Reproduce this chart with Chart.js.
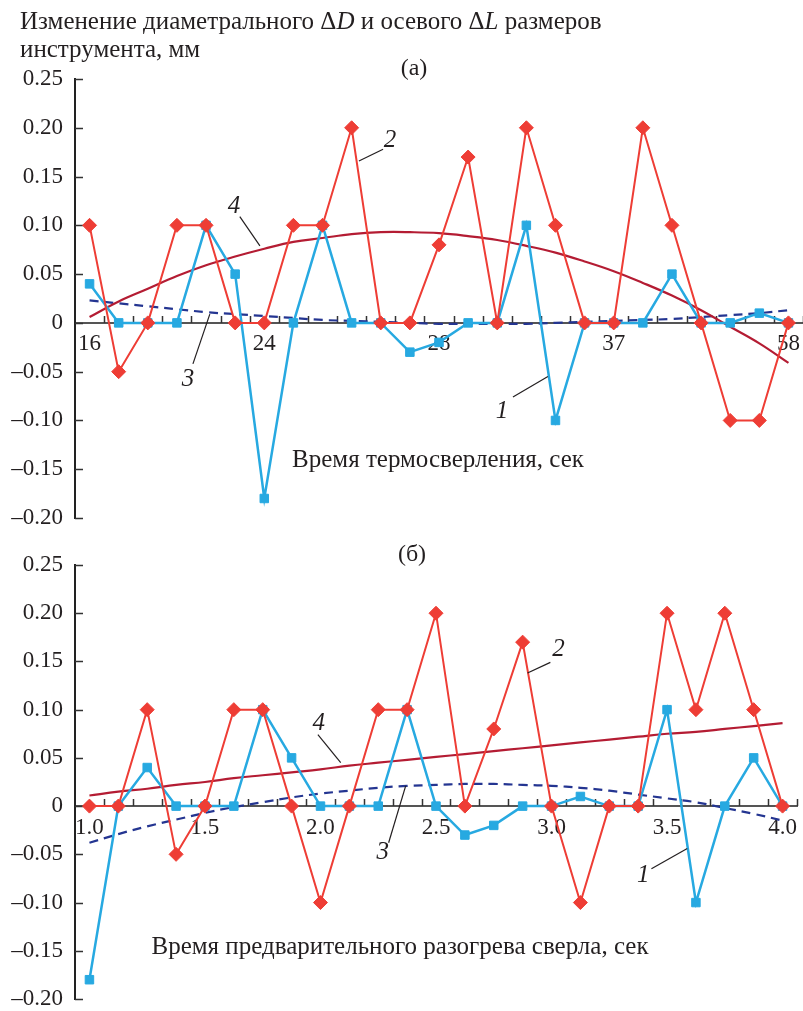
<!DOCTYPE html>
<html>
<head>
<meta charset="utf-8">
<script src="https://cdn.jsdelivr.net/npm/chart.js@4.4.1/dist/chart.umd.min.js"></script>
<style>
  html, body { margin: 0; padding: 0; background: #fff; }
  #wrap { position: relative; width: 803px; height: 1011px; }
  .box { position: absolute; left: 0; width: 803px; }
</style>
</head>
<body>
<div id="wrap">
  <div class="box" style="top:0;height:535px"><canvas id="chartA"></canvas></div>
  <div class="box" style="top:535px;height:476px"><canvas id="chartB"></canvas></div>
</div>
<script>
// (а) время термосверления
const topCategories = ['16', '', '', '', '', '', '24', '', '', '', '', '', '28', '', '', '', '', '', '37', '', '', '', '', '', '58'];
const topSeries1 = [0.04, 0, 0, 0, 0.10, 0.05, -0.18, 0, 0.10, 0, 0, -0.03, -0.02, 0, 0, 0.10, -0.10, 0, 0, 0, 0.05, 0, 0, 0.01, 0];
const topSeries2 = [0.10, -0.05, 0, 0.10, 0.10, 0, 0, 0.10, 0.10, 0.20, 0, 0, 0.08, 0.17, 0, 0.20, 0.10, 0, 0, 0.20, 0.10, 0, -0.10, -0.10, 0];
const topTrend3 = [0.023, 0.020, 0.017, 0.014, 0.011, 0.009, 0.007, 0.005, 0.003, 0.002, 0.001, 0.000, -0.001, -0.001, -0.001, -0.001, 0.000, 0.001, 0.002, 0.003, 0.004, 0.006, 0.008, 0.010, 0.013];
const topTrend4 = [0.006, 0.022, 0.035, 0.048, 0.059, 0.068, 0.076, 0.083, 0.087, 0.091, 0.093, 0.093, 0.092, 0.089, 0.085, 0.079, 0.072, 0.063, 0.053, 0.041, 0.028, 0.013, -0.004, -0.021, -0.041];

// (б) время предварительного разогрева сверла
const bottomCategories = ['1.0', '', '', '', '1.5', '', '', '', '2.0', '', '', '', '2.5', '', '', '', '3.0', '', '', '', '3.5', '', '', '', '4.0'];
const bottomSeries1 = [-0.18, 0, 0.04, 0, 0, 0, 0.10, 0.05, 0, 0, 0, 0.10, 0, -0.03, -0.02, 0, 0, 0.01, 0, 0, 0.10, -0.10, 0, 0.05, 0];
const bottomSeries2 = [0, 0, 0.10, -0.05, 0, 0.10, 0.10, 0, -0.10, 0, 0.10, 0.10, 0.20, 0, 0.08, 0.17, 0, -0.10, 0, 0, 0.20, 0.10, 0.20, 0.10, 0];
const bottomTrend3 = [-0.038, -0.029, -0.021, -0.014, -0.007, -0.001, 0.004, 0.009, 0.013, 0.016, 0.019, 0.021, 0.022, 0.023, 0.023, 0.022, 0.021, 0.019, 0.016, 0.012, 0.008, 0.004, -0.002, -0.008, -0.015];
const bottomTrend4 = [0.011, 0.015, 0.018, 0.022, 0.025, 0.029, 0.032, 0.035, 0.038, 0.042, 0.045, 0.048, 0.051, 0.054, 0.057, 0.060, 0.063, 0.066, 0.069, 0.072, 0.075, 0.077, 0.080, 0.083, 0.086];

const yMin = -0.20, yMax = 0.25, yStep = 0.05;

// curve numbers: label and leader line, in [category index, value]
const topCurveLabels = [
  { text: '2', at: [10.32, 0.187], from: [9.25, 0.166], to: [10.08, 0.178] },
  { text: '4', at: [4.96, 0.119], from: [5.85, 0.079], to: [5.16, 0.109] },
  { text: '3', at: [3.38, -0.058], from: [4.13, 0.009], to: [3.55, -0.042] },
  { text: '1', at: [14.16, -0.091], from: [15.74, -0.055], to: [14.54, -0.076] }
];
const bottomCurveLabels = [
  { text: '4', at: [7.94, 0.086], from: [8.70, 0.045], to: [7.91, 0.074] },
  { text: '2', at: [16.24, 0.162], from: [15.17, 0.138], to: [15.96, 0.149] },
  { text: '3', at: [10.16, -0.048], from: [10.95, 0.021], to: [10.36, -0.038] },
  { text: '1', at: [19.18, -0.072], from: [20.70, -0.044], to: [19.46, -0.065] }
];

const SERIF = '"Liberation Serif", "Times New Roman", serif';
const RED = '#ee3d35';
const BLUE = '#27a9e1';
const DARKRED = '#b41c33';
const NAVY = '#243591';
const INK = '#231f20';

const decor = {
  id: 'decor',
  beforeDatasetsDraw(chart) {
    const { ctx, chartArea: a, scales: { x, y } } = chart;
    ctx.save();
    ctx.strokeStyle = '#333';
    ctx.lineWidth = 1.5;
    ctx.beginPath();
    y.ticks.forEach(t => {
      const py = Math.round(y.getPixelForValue(t.value)) + 0.5;
      ctx.moveTo(a.left, py);
      ctx.lineTo(a.left + 8, py);
    });
    const y0 = y.getPixelForValue(0);
    for (let i = 1; i <= x.ticks.length; i++) {
      const px = Math.round(x.getPixelForValue(i - 0.5)) + 0.5;
      ctx.moveTo(px, y0);
      ctx.lineTo(px, y0 - 7);
    }
    ctx.stroke();
    ctx.restore();
  },
  afterDraw(chart, args, opts) {
    const { ctx, scales: { x, y } } = chart;
    ctx.save();
    ctx.fillStyle = INK;
    ctx.textBaseline = 'middle';
    if (opts.title) {
      let px = opts.title.x;
      opts.title.line1.forEach(seg => {
        ctx.font = (seg.italic ? 'italic ' : '') + '25px ' + SERIF;
        ctx.fillText(seg.text, px, opts.title.y1);
        px += ctx.measureText(seg.text).width;
      });
      ctx.font = '25px ' + SERIF;
      ctx.fillText(opts.title.line2, opts.title.x, opts.title.y2);
    }
    ctx.textAlign = 'center';
    ctx.font = '24px ' + SERIF;
    ctx.fillText(opts.panel.text, opts.panel.x, opts.panel.y);
    ctx.font = '25px ' + SERIF;
    ctx.fillText(opts.axisTitle.text, opts.axisTitle.x, opts.axisTitle.y);
    ctx.font = 'italic 25px ' + SERIF;
    ctx.strokeStyle = INK;
    ctx.lineWidth = 1.2;
    opts.curveLabels.forEach(l => {
      ctx.beginPath();
      ctx.moveTo(x.getPixelForValue(l.from[0]), y.getPixelForValue(l.from[1]));
      ctx.lineTo(x.getPixelForValue(l.to[0]), y.getPixelForValue(l.to[1]));
      ctx.stroke();
      ctx.fillText(l.text, x.getPixelForValue(l.at[0]), y.getPixelForValue(l.at[1]));
    });
    ctx.restore();
  }
};

function yLabel(v) {
  if (Math.abs(v) < 1e-9) return '0';
  return (v < 0 ? '\u2013' : '') + Math.abs(v).toFixed(2);
}

function noPadding(s) {
  s.paddingLeft = 0;
  s.paddingRight = 0;
  s.paddingTop = 0;
  s.paddingBottom = 0;
}

function makeChart(canvasId, categories, s1, s2, t3, t4, padding, decorOpts) {
  return new Chart(document.getElementById(canvasId), {
    type: 'line',
    data: {
      labels: categories,
      datasets: [
        {
          label: '2',
          data: s2,
          borderColor: RED,
          backgroundColor: RED,
          borderWidth: 2,
          pointStyle: 'rectRot',
          pointRadius: 7,
          pointBorderWidth: 1,
          tension: 0
        },
        {
          label: '1',
          data: s1,
          borderColor: BLUE,
          backgroundColor: BLUE,
          borderWidth: 2.5,
          pointStyle: 'rect',
          pointRadius: 6,
          pointBorderWidth: 1,
          tension: 0
        },
        {
          label: '4',
          data: t4,
          borderColor: DARKRED,
          borderWidth: 2.2,
          pointRadius: 0,
          tension: 0.4
        },
        {
          label: '3',
          data: t3,
          borderColor: NAVY,
          borderWidth: 2.2,
          borderDash: [9, 6],
          pointRadius: 0,
          tension: 0.4
        }
      ]
    },
    options: {
      responsive: true,
      maintainAspectRatio: false,
      animation: false,
      events: [],
      layout: { padding: padding, autoPadding: false },
      plugins: {
        legend: { display: false },
        tooltip: { enabled: false },
        decor: decorOpts
      },
      scales: {
        x: {
          type: 'category',
          offset: true,
          position: { y: 0 },
          grid: { display: false, drawTicks: false, offset: true },
          border: { display: true, color: '#555', width: 2 },
          afterFit: noPadding,
          ticks: {
            autoSkip: false,
            maxRotation: 0,
            padding: 10,
            color: INK,
            font: { family: SERIF, size: 23, lineHeight: 1 }
          }
        },
        y: {
          min: yMin,
          max: yMax,
          grid: { display: false, drawTicks: false },
          border: { display: true, color: '#222', width: 2 },
          afterFit: s => { s.width = 65; noPadding(s); },
          ticks: {
            stepSize: yStep,
            padding: 12,
            color: INK,
            font: { family: SERIF, size: 23, lineHeight: 1 },
            callback: yLabel
          }
        }
      }
    },
    plugins: [decor]
  });
}

makeChart('chartA', topCategories, topSeries1, topSeries2, topTrend3, topTrend4,
  { top: 79, left: 10, right: 0, bottom: 17 },
  {
    title: {
      x: 20, y1: 22, y2: 50,
      line1: [
        { text: 'Изменение диаметрального \u0394' },
        { text: 'D', italic: true },
        { text: ' и осевого \u0394' },
        { text: 'L', italic: true },
        { text: ' размеров' }
      ],
      line2: 'инструмента, мм'
    },
    panel: { text: '(а)', x: 414, y: 69 },
    axisTitle: { text: 'Время термосверления, сек', x: 438, y: 460 },
    curveLabels: topCurveLabels
  });

makeChart('chartB', bottomCategories, bottomSeries1, bottomSeries2, bottomTrend3, bottomTrend4,
  { top: 30, left: 10, right: 6, bottom: 12 },
  {
    panel: { text: '(б)', x: 412, y: 20 },
    axisTitle: { text: 'Время предварительного разогрева сверла, сек', x: 400, y: 412 },
    curveLabels: bottomCurveLabels
  });
</script>
</body>
</html>
